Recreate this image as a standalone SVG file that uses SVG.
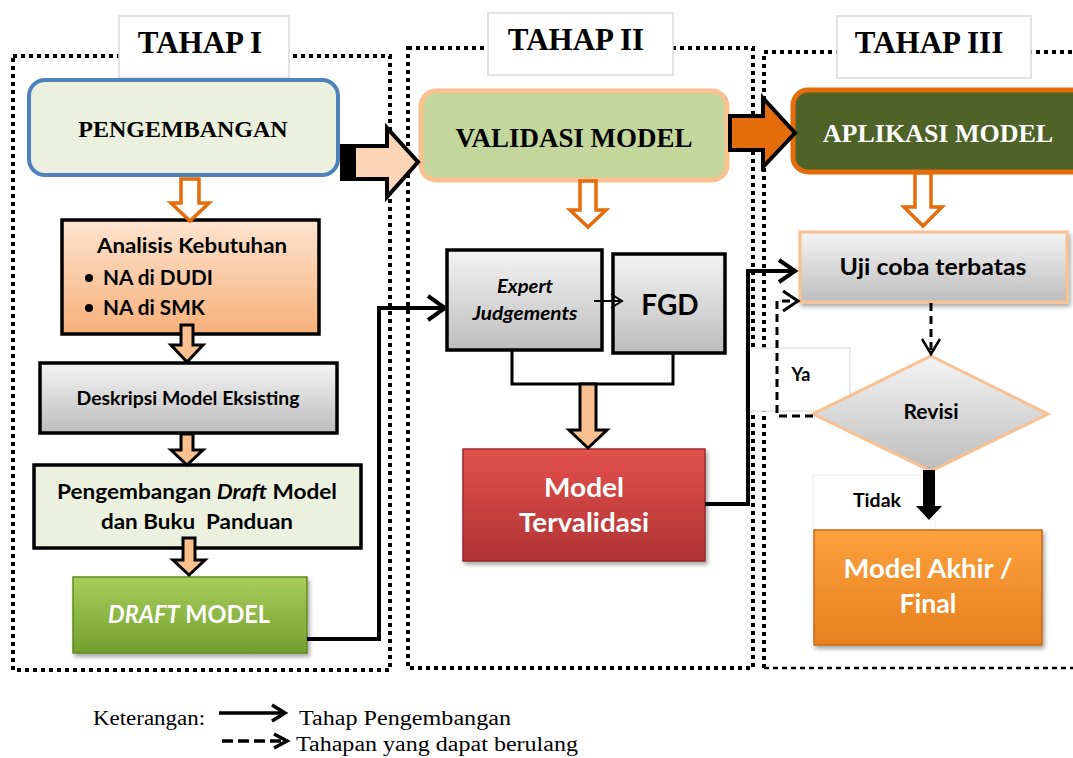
<svg xmlns="http://www.w3.org/2000/svg" width="1073" height="758" viewBox="0 0 1073 758">
<defs>
<linearGradient id="gGray" x1="0" y1="0" x2="0" y2="1"><stop offset="0" stop-color="#f4f4f4"/><stop offset="1" stop-color="#bdbdbd"/></linearGradient>
<linearGradient id="gPeach" x1="0" y1="0" x2="0" y2="1"><stop offset="0" stop-color="#fde4d0"/><stop offset="1" stop-color="#f7b07a"/></linearGradient>
<linearGradient id="gGreen" x1="0" y1="0" x2="0" y2="1"><stop offset="0" stop-color="#a9cd5a"/><stop offset="1" stop-color="#73a030"/></linearGradient>
<linearGradient id="gRed" x1="0" y1="0" x2="0" y2="1"><stop offset="0" stop-color="#e2504c"/><stop offset="1" stop-color="#b03434"/></linearGradient>
<linearGradient id="gOrange" x1="0" y1="0" x2="0" y2="1"><stop offset="0" stop-color="#fba13c"/><stop offset="1" stop-color="#e8801e"/></linearGradient>
<filter id="sh" x="-10%" y="-10%" width="130%" height="140%"><feDropShadow dx="2" dy="3" stdDeviation="2" flood-color="#000" flood-opacity="0.35"/></filter>
</defs>
<style>
.dot{fill:none;stroke:#000;stroke-width:4;stroke-dasharray:4 4}
.title{fill:#fff;stroke:#d9d9d9;stroke-width:1.5}
.tt{font-family:"Liberation Serif",serif;font-weight:bold;font-size:31px;fill:#000;text-anchor:middle}
.hd{font-family:"Liberation Serif",serif;font-weight:bold;text-anchor:middle;fill:#000}
.hw{font-family:"Liberation Serif",serif;font-weight:bold;text-anchor:middle;fill:#fff}
.cb{font-family:Lato,"Liberation Sans",sans-serif;font-weight:bold;fill:#000;text-anchor:middle}
.cw{font-family:Lato,"Liberation Sans",sans-serif;font-weight:bold;fill:#fff;text-anchor:middle}
.cs{font-family:Lato,"Liberation Sans",sans-serif;font-weight:bold;fill:#000;text-anchor:start}
.blk{fill:none;stroke:#000;stroke-width:3}
.box{stroke:#000;stroke-width:3.5}
.oarr{fill:#fff;stroke:#e46c0a;stroke-width:3.5}
.barr{fill:#fac090;stroke:#000;stroke-width:3}
.con{fill:none;stroke:#000;stroke-width:4}
.dash{fill:none;stroke:#000;stroke-width:3;stroke-dasharray:8 5}
.lg{font-family:"Liberation Serif",serif;font-size:20.5px;fill:#000}
</style>

<g id="frames">
<rect class="dot" x="13" y="56" width="377" height="614"/>
<rect class="dot" x="408" y="48" width="345" height="620"/>
<path class="dot" d="M764,668 L764,52 L1075,52"/>
<path d="M764,668 L1073,668" fill="none" stroke="#000" stroke-width="2.5" stroke-dasharray="5 4"/>
</g>

<g id="tahap1"><rect class="title" x="119" y="16" width="170" height="62"/><text class="tt" x="200" y="53">TAHAP I</text></g>
<g id="tahap2"><rect class="title" x="488" y="13" width="185" height="62"/><text class="tt" x="576" y="50">TAHAP II</text></g>
<g id="tahap3"><rect class="title" x="837" y="16" width="194" height="62"/><text class="tt" x="929" y="53">TAHAP III</text></g>

<g id="label-ya"><rect x="746" y="348" width="104" height="63" fill="#fff" stroke="#e4e4e4" stroke-width="1.5"/><text class="cb" x="801" y="381" font-size="18">Ya</text></g>
<g id="label-tidak"><rect x="813" y="475" width="122" height="55" fill="#fff" stroke="#f0f0f0" stroke-width="1"/><text class="cb" x="877" y="507" font-size="18" textLength="48" lengthAdjust="spacingAndGlyphs">Tidak</text></g>

<g id="pengembangan"><rect x="29" y="80" width="309" height="95" rx="16" fill="#ebf1de" stroke="#4f81bd" stroke-width="4"/><text class="hd" x="183" y="137" font-size="24">PENGEMBANGAN</text></g>
<g id="validasi"><rect x="421" y="91" width="306" height="89" rx="15" fill="#c3d69b" stroke="#fac090" stroke-width="5"/><text class="hd" x="574" y="147" font-size="26.5" textLength="237" lengthAdjust="spacingAndGlyphs">VALIDASI MODEL</text></g>
<g id="aplikasi"><rect x="793" y="90" width="300" height="82" rx="15" fill="#4f6228" stroke="#e46c0a" stroke-width="5"/><text class="hw" x="938" y="142" font-size="26">APLIKASI MODEL</text></g>

<g id="analisis"><rect class="box" x="62" y="220" width="257" height="114" fill="url(#gPeach)"/>
<text class="cb" x="192" y="253" font-size="21" textLength="190" lengthAdjust="spacingAndGlyphs">Analisis Kebutuhan</text>
<circle cx="89" cy="278" r="4"/><text class="cs" x="103" y="285" font-size="21" textLength="110" lengthAdjust="spacingAndGlyphs">NA di DUDI</text>
<circle cx="89" cy="308" r="4"/><text class="cs" x="103" y="315" font-size="21" textLength="102" lengthAdjust="spacingAndGlyphs">NA di SMK</text></g>

<g id="deskripsi"><rect class="box" x="40" y="363" width="297" height="70" fill="url(#gGray)"/><text class="cb" x="188" y="405" font-size="19" textLength="223" lengthAdjust="spacingAndGlyphs">Deskripsi Model Eksisting</text></g>

<g id="draft-dev"><rect class="box" x="34" y="465" width="327" height="83" fill="#ebf1de"/>
<text class="cb" x="197" y="499" font-size="20.5" textLength="280" lengthAdjust="spacingAndGlyphs">Pengembangan <tspan font-style="italic">Draft</tspan> Model</text>
<text class="cb" x="197" y="529" font-size="20.5" xml:space="preserve" textLength="192" lengthAdjust="spacingAndGlyphs">dan Buku  Panduan</text></g>

<g id="draft-model"><rect x="73" y="577" width="234" height="76" fill="url(#gGreen)" stroke="#5f8a25" stroke-width="1.5" filter="url(#sh)"/><text class="cw" x="189" y="623" font-size="24" textLength="162" lengthAdjust="spacingAndGlyphs"><tspan font-style="italic">DRAFT</tspan> MODEL</text></g>

<g id="expert"><rect class="box" x="447" y="250" width="155" height="100" fill="url(#gGray)"/>
<text class="cb" x="525" y="293" font-size="19" font-style="italic" textLength="56" lengthAdjust="spacingAndGlyphs">Expert</text>
<text class="cb" x="525" y="320" font-size="19" font-style="italic" textLength="105" lengthAdjust="spacingAndGlyphs">Judgements</text></g>

<g id="fgd"><rect class="box" x="613" y="254" width="112" height="99" fill="url(#gGray)"/><text class="cb" x="670" y="315" font-size="28">FGD</text></g>

<g id="tervalidasi"><rect x="463" y="449" width="242" height="112" fill="url(#gRed)" stroke="#9a2a2a" stroke-width="1.5" filter="url(#sh)"/>
<text class="cw" x="584" y="497" font-size="27" textLength="80" lengthAdjust="spacingAndGlyphs">Model</text>
<text class="cw" x="584" y="532" font-size="27" textLength="130" lengthAdjust="spacingAndGlyphs">Tervalidasi</text></g>

<g id="uji"><rect x="800" y="232" width="267" height="70" fill="url(#gGray)" stroke="#fac090" stroke-width="3" filter="url(#sh)"/><text class="cb" x="933" y="275" font-size="22.5" textLength="187" lengthAdjust="spacingAndGlyphs">Uji coba terbatas</text></g>

<g id="revisi"><polygon points="931,356 1048,414 931,471 813,414" fill="url(#gGray)" stroke="#fac090" stroke-width="3"/><text class="cb" x="931" y="419" font-size="21" textLength="55" lengthAdjust="spacingAndGlyphs">Revisi</text></g>

<g id="final"><rect x="814" y="530" width="228" height="115" fill="url(#gOrange)" stroke="#c86a10" stroke-width="1.5" filter="url(#sh)"/>
<text class="cw" x="928" y="578" font-size="27" textLength="169" lengthAdjust="spacingAndGlyphs">Model Akhir /</text>
<text class="cw" x="928" y="613" font-size="27" textLength="57" lengthAdjust="spacingAndGlyphs">Final</text></g>

<g id="connectors">
<polyline class="con" points="307,639 379,639 379,308 443,308"/>
<polyline class="con" points="428,296 445,308 428,320"/>
<polyline class="con" points="705,504 748,504 748,271 793,271"/>
<polyline class="con" points="779,260 795,271 779,282"/>
<line x1="594" y1="301" x2="620" y2="301" stroke="#000" stroke-width="2"/>
<polyline points="611,294 622,301 611,308" fill="none" stroke="#000" stroke-width="2"/>
<polyline class="blk" points="512,351 512,384 673,384 673,354"/>
<line class="dash" x1="931" y1="303" x2="931" y2="353"/>
<polyline points="922,339 931,354 940,339" fill="none" stroke="#000" stroke-width="2.5"/>
<polyline class="dash" points="813,416 777,416 777,301 795,301"/>
<polyline points="783,291 798,301 783,311" fill="none" stroke="#000" stroke-width="3"/>
<path class="oarr" d="M181,179 L199,179 L199,203 L209,203 L190,221 L171,203 L181,203 Z"/>
<path class="oarr" d="M580,181 L596,181 L596,210 L606,210 L588,227 L570,210 L580,210 Z"/>
<path class="oarr" d="M915,173 L931,173 L931,207 L942,207 L923,226 L904,207 L915,207 Z"/>
<path class="barr" d="M181,325 L193,325 L193,345 L203,345 L187,362 L171,345 L181,345 Z"/>
<path class="barr" d="M181,434 L193,434 L193,450 L203,450 L187,465 L171,450 L181,450 Z"/>
<path class="barr" d="M183,538 L195,538 L195,560 L205,560 L189,575 L173,560 L183,560 Z"/>
<path class="barr" d="M580,384 L596,384 L596,430 L607,430 L588,448 L569,430 L580,430 Z"/>
<path d="M923,470 L935,470 L935,506 L942,506 L929,520 L916,506 L923,506 Z" fill="#000"/>
<polygon points="342,146 387,146 387,128 418,162 387,197 387,179 342,179" fill="#fbd5b5" stroke="#000" stroke-width="4"/>
<rect x="342" y="146" width="14" height="33" fill="#000"/>
<polygon points="730,116 763,116 763,98 795,133 763,167 763,150 730,150" fill="#e46c0a" stroke="#000" stroke-width="4"/>
</g>

<g id="legend">
<text class="lg" x="93" y="725" textLength="112" lengthAdjust="spacingAndGlyphs">Keterangan:</text>
<line x1="219" y1="713" x2="282" y2="713" stroke="#000" stroke-width="3.5"/>
<polyline points="272,705 285,713 272,721" fill="none" stroke="#000" stroke-width="3.5"/>
<text class="lg" x="299" y="725" textLength="212" lengthAdjust="spacingAndGlyphs">Tahap Pengembangan</text>
<line x1="222" y1="741" x2="283" y2="741" stroke="#000" stroke-width="3.5" stroke-dasharray="11 5"/>
<polyline points="274,734 287,741 274,748" fill="none" stroke="#000" stroke-width="3.5"/>
<text class="lg" x="296" y="751" textLength="282" lengthAdjust="spacingAndGlyphs">Tahapan yang dapat berulang</text>
</g>
</svg>
